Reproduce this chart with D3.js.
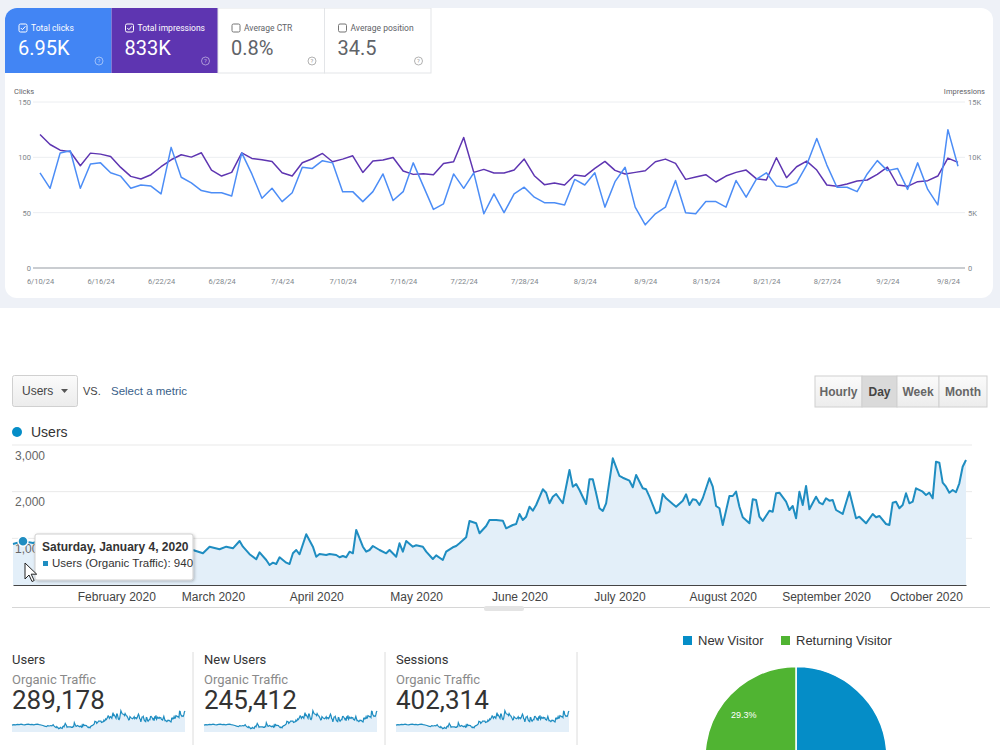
<!DOCTYPE html>
<html>
  <head>
    <meta charset="utf-8">
    <title>Search performance and organic traffic</title>
    <script src="https://cdn.jsdelivr.net/npm/d3@7"></script>
    <style>
      body { margin: 0; background: #fff; }
      svg { display: block; }
      text { font-family: Roboto, "Liberation Sans", sans-serif; }
      .ga text { font-family: "Liberation Sans", Arial, sans-serif; }
      .ga .score text { font-family: Roboto, "Liberation Sans", sans-serif; }
    </style>
  </head>
  <body>
    <svg id="board" width="1000" height="750"></svg>

    <script>
      // ---- search console data (one value per day from 6/10/24) ----
      searchStart = new Date(2024, 5, 10);
      clicks = [
        86, 72, 104, 106, 72, 94, 95, 86, 83, 72,
        75, 74, 67, 109, 82, 77, 70, 68, 68, 65,
        104, 85, 63, 72, 60, 68, 91, 90, 97, 95,
        69, 69, 60, 69, 85, 61, 69, 95, 74, 53,
        58, 85, 72, 86, 49, 67, 50, 67, 73, 64,
        59, 59, 57, 80, 75, 86, 55, 78, 91, 55,
        39, 49, 55, 79, 50, 49, 60, 60, 55, 79,
        64, 80, 86, 74, 73, 77, 93, 117, 93, 73,
        73, 69, 85, 97, 88, 90, 71, 95, 71, 57,
        125, 92
      ];
      impressions = [
        12060, 11160, 10650, 10500, 9240, 10380, 10290, 10080, 9090, 8280,
        8040, 8430, 9150, 9780, 10230, 10020, 10410, 8850, 8310, 8640,
        10410, 9900, 9780, 9630, 8610, 8310, 9510, 9870, 10350, 9600,
        9840, 10140, 8640, 9660, 9750, 9990, 8760, 8460, 8520, 8430,
        9450, 9600, 11790, 8640, 8910, 8580, 8580, 8850, 9840, 8340,
        7530, 7680, 7500, 8400, 8280, 9000, 9630, 8820, 8490, 8640,
        8790, 9600, 9840, 9450, 8010, 8220, 8430, 7770, 8310, 8640,
        8850, 8070, 7950, 9960, 8160, 9150, 9660, 8850, 7500, 7380,
        7590, 7860, 7950, 8460, 9120, 7500, 7380, 7800, 7890, 8310,
        9930, 9540
      ];
      clickTicks = [0, 50, 100, 150];
      impressionTicks = [0, 5000, 10000, 15000];
      tileLabels = ["Total clicks", "Total impressions", "Average CTR", "Average position"];
      tileValues = ["6.95K", "833K", "0.8%", "34.5"];
      tileSelected = [true, true, false, false];

      // ---- analytics data: [day offset from Jan 1 2020, users] ----
      usersSeries = [
        [0, 880], [3, 940], [6, 900], [9, 970], [12, 930], [15, 990], [18, 940], [21, 900], [24, 960],
        [27, 1000], [30, 950], [33, 980], [36, 920], [39, 960], [42, 1000], [45, 940], [48, 890], [51, 830],
        [54, 750], [57, 679], [59, 821], [62, 765], [64, 821], [66, 786], [68, 943], [69, 821], [71, 660],
        [73, 551], [74, 701], [76, 536], [77, 429], [78, 478], [79, 450], [80, 594], [82, 478], [83, 450],
        [84, 679], [85, 750], [86, 658], [88, 1086], [90, 821], [91, 606], [92, 664], [94, 643], [95, 664],
        [97, 643], [98, 594], [99, 621], [100, 594], [101, 714], [102, 679], [103, 1179], [105, 821], [106, 714],
        [107, 750], [108, 836], [110, 750], [112, 679], [113, 750], [115, 606], [116, 894], [117, 714], [118, 943],
        [120, 821], [121, 851], [123, 821], [124, 714], [126, 557], [127, 636], [129, 536], [130, 714], [132, 808],
        [133, 836], [134, 894], [136, 1022], [137, 1372], [139, 1322], [140, 1108], [142, 1264], [143, 1393], [145, 1393],
        [147, 1378], [148, 1215], [150, 1286], [151, 1307], [152, 1522], [153, 1393], [154, 1464], [155, 1678], [156, 1592],
        [157, 1714], [159, 2051], [160, 1978], [161, 1751], [162, 1892], [163, 1950], [165, 1751], [167, 2464], [168, 2107],
        [169, 2164], [170, 2036], [172, 1736], [173, 2265], [174, 2265], [175, 1965], [176, 1644], [177, 1586], [178, 1751],
        [180, 2715], [182, 2336], [183, 2299], [185, 2235], [186, 2094], [187, 2357], [189, 2072], [190, 2051], [191, 1892],
        [193, 1536], [194, 1571], [195, 1950], [196, 1858], [198, 1736], [199, 1678], [201, 1807], [202, 1944], [203, 1714],
        [204, 1837], [205, 1822], [206, 1714], [207, 1858], [209, 2287], [210, 2107], [211, 1693], [212, 1644], [213, 1286],
        [215, 1907], [216, 1907], [217, 2000], [218, 1678], [219, 1451], [221, 1322], [222, 1837], [223, 1822], [224, 1464],
        [225, 1372], [227, 1592], [228, 1571], [229, 1965], [230, 1978], [232, 1785], [233, 1607], [234, 1693], [235, 1429],
        [236, 1999], [237, 1714], [238, 2122], [239, 1622], [241, 1892], [242, 1764], [243, 1729], [244, 1858], [245, 1807],
        [246, 1822], [247, 1607], [249, 1522], [251, 1999], [253, 1429], [254, 1464], [255, 1393], [256, 1322], [258, 1522],
        [259, 1451], [260, 1479], [262, 1307], [263, 1286], [264, 1764], [265, 1785], [266, 1644], [267, 1714], [268, 1965],
        [269, 1751], [270, 1785], [271, 2072], [273, 1999], [274, 1929], [275, 1978], [276, 1858], [277, 2642], [278, 2621],
        [279, 2192], [280, 2107], [281, 1978], [282, 2036], [283, 1987], [284, 2179], [285, 2535], [286, 2679]
      ];
      usersStart = new Date(2020, 0, 1);
      usersTicks = [1000, 2000, 3000];
      hoverDay = 3;
      periodButtons = ["Hourly", "Day", "Week", "Month"];
      scoreTitles = ["Users", "New Users", "Sessions"];
      scoreValues = ["289,178", "245,412", "402,314"];
      visitorTypes = ["New Visitor", "Returning Visitor"];
      visitorShares = [70.7, 29.3];
      visitorColours = ["#058dc7", "#50b432"];

      svg = d3.select("#board");
      defs = svg.append("defs");

      // ================= search console panel =================
      svg.append("rect")
        .attr("width", 1000).attr("height", 308)
        .attr("fill", "#eef1f7");

      defs.append("clipPath").attr("id", "cardClip")
        .append("rect")
          .attr("x", 5).attr("y", 8)
          .attr("width", 988).attr("height", 290)
          .attr("rx", 12);

      card = svg.append("g").attr("clip-path", "url(#cardClip)");
      card.append("rect")
        .attr("x", 5).attr("y", 8)
        .attr("width", 988).attr("height", 290)
        .attr("fill", "#fff");

      tileX = d3.scaleBand()
        .domain(tileLabels)
        .range([5, 431]);

      tiles = card.selectAll(".tile")
        .data(tileLabels)
        .enter().append("g")
          .classed("tile", true)
          .attr("transform", function(d) { return "translate(" + tileX(d) + ",8)"; });

      tiles.append("rect")
        .attr("width", tileX.bandwidth())
        .attr("height", 65)
        .attr("fill", function(d, i) { return i == 0 ? "#4285f4" : i == 1 ? "#5e35b1" : "#fff"; })
        .attr("stroke", function(d, i) { return tileSelected[i] ? "none" : "#e3e5e8"; });

      tiles.append("rect")
        .attr("x", 14).attr("y", 16)
        .attr("width", 8).attr("height", 8)
        .attr("rx", 1.5)
        .attr("fill", "none")
        .attr("stroke", function(d, i) { return tileSelected[i] ? "#fff" : "#757575"; })
        .attr("stroke-width", 1);

      tiles.filter(function(d, i) { return tileSelected[i]; })
        .append("path")
          .attr("d", "M15.8,20 l1.6,1.7 l3,-3.4")
          .attr("fill", "none")
          .attr("stroke", "#fff")
          .attr("stroke-width", 1);

      tiles.append("text")
        .attr("x", 26).attr("y", 23)
        .attr("font-size", 8.5)
        .attr("fill", function(d, i) { return tileSelected[i] ? "#fff" : "#5f6368"; })
        .text(function(d) { return d; });

      tiles.append("text")
        .attr("x", 13).attr("y", 47)
        .attr("font-size", 20)
        .attr("fill", function(d, i) { return tileSelected[i] ? "#fff" : "#5f6368"; })
        .text(function(d, i) { return tileValues[i]; });

      help = tiles.append("g").attr("transform", "translate(94,53)");
      help.append("circle")
        .attr("r", 4)
        .attr("fill", "none")
        .attr("stroke", function(d, i) { return tileSelected[i] ? "rgba(255,255,255,0.6)" : "#9e9e9e"; })
        .attr("stroke-width", 0.8);
      help.append("text")
        .attr("text-anchor", "middle").attr("y", 2.2)
        .attr("font-size", 6)
        .attr("fill", function(d, i) { return tileSelected[i] ? "rgba(255,255,255,0.6)" : "#9e9e9e"; })
        .text("?");

      // scales
      searchEnd = d3.timeDay.offset(searchStart, clicks.length - 1);
      xTop = d3.scaleTime().domain([searchStart, searchEnd]).range([40, 958]);
      yClicks = d3.scaleLinear().domain([0, 150]).range([268, 102]);
      yImpr = d3.scaleLinear().domain([0, 15000]).range([268, 102]);

      plot = svg.append("g").attr("font-size", 7.5);

      plot.selectAll(".grid")
        .data(clickTicks.slice(1))
        .enter().append("line")
          .attr("x1", 33).attr("x2", 965)
          .attr("y1", yClicks).attr("y2", yClicks)
          .attr("stroke", "#eceef1");

      plot.append("line")
        .attr("x1", 33).attr("x2", 965)
        .attr("y1", yClicks(0)).attr("y2", yClicks(0))
        .attr("stroke", "#b8bcc2").attr("stroke-width", 1.5);

      leftAxis = plot.append("g")
        .attr("transform", "translate(32,0)")
        .call(d3.axisLeft(yClicks).tickValues(clickTicks).tickSize(0).tickPadding(1));
      rightAxis = plot.append("g")
        .attr("transform", "translate(966,0)")
        .call(d3.axisRight(yImpr).tickValues(impressionTicks).tickSize(0).tickPadding(2)
          .tickFormat(function(d) { return d == 0 ? "0" : d / 1000 + "K"; }));

      tickDays = d3.range(0, clicks.length, 6).map(function(k) { return d3.timeDay.offset(searchStart, k); });
      bottomAxis = plot.append("g")
        .attr("transform", "translate(0," + yClicks(0) + ")")
        .call(d3.axisBottom(xTop).tickValues(tickDays).tickSize(0).tickPadding(11)
          .tickFormat(d3.timeFormat("%-m/%-d/%y")));

      plot.selectAll(".domain").remove();
      plot.selectAll(".tick text")
        .attr("fill", "#80868b")
        .attr("font-family", "Roboto, sans-serif")
        .attr("font-size", 7.5);

      plot.append("text")
        .attr("x", 14).attr("y", 94)
        .attr("font-size", 7.5).attr("fill", "#5f6368")
        .text("Clicks");
      plot.append("text")
        .attr("x", 985).attr("y", 94)
        .attr("text-anchor", "end")
        .attr("font-size", 7.5).attr("fill", "#5f6368")
        .text("Impressions");

      dayX = function(d, i) { return xTop(d3.timeDay.offset(searchStart, i)); };

      plot.append("path")
        .datum(impressions)
        .attr("fill", "none")
        .attr("stroke", "#5e35b1")
        .attr("stroke-width", 1.5)
        .attr("stroke-linejoin", "round")
        .attr("d", d3.line().x(dayX).y(function(d) { return yImpr(d); }));

      plot.append("path")
        .datum(clicks)
        .attr("fill", "none")
        .attr("stroke", "#4c8df6")
        .attr("stroke-width", 1.5)
        .attr("stroke-linejoin", "round")
        .attr("d", d3.line().x(dayX).y(function(d) { return yClicks(d); }));

      // ================= analytics panel =================
      ga = svg.append("g").classed("ga", true);

      grad = defs.append("linearGradient").attr("id", "btn").attr("x1", 0).attr("x2", 0).attr("y1", 0).attr("y2", 1);
      grad.append("stop").attr("offset", "0%").attr("stop-color", "#fbfbfb");
      grad.append("stop").attr("offset", "100%").attr("stop-color", "#ececec");

      shadow = defs.append("filter").attr("id", "shadow").attr("x", "-10%").attr("y", "-20%").attr("width", "130%").attr("height", "150%");
      shadow.append("feDropShadow").attr("dx", 1).attr("dy", 1).attr("stdDeviation", 1.5).attr("flood-opacity", 0.25);

      // metric picker
      ga.append("rect")
        .attr("x", 12.5).attr("y", 375.5)
        .attr("width", 65).attr("height", 31)
        .attr("rx", 2)
        .attr("fill", "url(#btn)").attr("stroke", "#d0d0d0");
      ga.append("text")
        .attr("x", 22).attr("y", 395)
        .attr("font-size", 12).attr("fill", "#444")
        .text("Users");
      ga.append("path")
        .attr("d", "M61,389 h7 l-3.5,4 z")
        .attr("fill", "#555");
      ga.append("text")
        .attr("x", 83).attr("y", 395)
        .attr("font-size", 11).attr("fill", "#444")
        .text("VS.");
      ga.append("text")
        .attr("x", 111).attr("y", 395)
        .attr("font-size", 11.5).attr("fill", "#3a5f8a")
        .text("Select a metric");

      // period buttons
      btnX = d3.scaleOrdinal().domain(periodButtons).range([815, 862, 897, 939]);
      btnW = d3.scaleOrdinal().domain(periodButtons).range([47, 35, 42, 48]);
      buttons = ga.selectAll(".period")
        .data(periodButtons)
        .enter().append("g")
          .classed("period", true)
          .attr("transform", function(d) { return "translate(" + btnX(d) + ",376)"; });
      buttons.append("rect")
        .attr("width", btnW).attr("height", 31)
        .attr("fill", function(d) { return d == "Day" ? "#dadada" : "url(#btn)"; })
        .attr("stroke", "#d0d0d0");
      buttons.append("text")
        .attr("x", function(d) { return btnW(d) / 2; })
        .attr("y", 20)
        .attr("text-anchor", "middle")
        .attr("font-size", 12).attr("font-weight", "bold")
        .attr("fill", function(d) { return d == "Day" ? "#444" : "#666"; })
        .text(function(d) { return d; });

      // legend
      ga.append("circle")
        .attr("cx", 17).attr("cy", 432).attr("r", 5)
        .attr("fill", "#058dc7");
      ga.append("text")
        .attr("x", 31).attr("y", 437)
        .attr("font-size", 14).attr("fill", "#333")
        .text("Users");

      usersEnd = d3.timeDay.offset(usersStart, usersSeries[usersSeries.length - 1][0]);
      xUsers = d3.scaleTime().domain([usersStart, usersEnd]).range([13, 966]);
      yUsers = d3.scaleLinear().domain([0, 3000]).range([585, 445]);
      usersDate = function(d) { return xUsers(d3.timeDay.offset(usersStart, d[0])); };

      ga.selectAll(".ugrid")
        .data(usersTicks)
        .enter().append("line")
          .attr("x1", 12).attr("x2", 972)
          .attr("y1", yUsers).attr("y2", yUsers)
          .attr("stroke", "#e9e9e9");

      ga.append("path")
        .datum(usersSeries)
        .attr("fill", "#e3eff9")
        .attr("d", d3.area().x(usersDate).y0(yUsers(0)).y1(function(d) { return yUsers(d[1]); }));

      ga.append("path")
        .datum(usersSeries)
        .attr("fill", "none")
        .attr("stroke", "#1f8dc1")
        .attr("stroke-width", 2)
        .attr("stroke-linejoin", "round")
        .attr("d", d3.line().x(usersDate).y(function(d) { return yUsers(d[1]); }));

      yAxisUsers = ga.append("g")
        .attr("transform", "translate(15,0)")
        .call(d3.axisRight(yUsers).tickValues(usersTicks).tickSize(0).tickPadding(0).tickFormat(d3.format(",")));
      yAxisUsers.select(".domain").remove();
      yAxisUsers.selectAll("text").attr("dy", 14).attr("font-size", 12).attr("fill", "#666");

      monthAxis = ga.append("g")
        .attr("transform", "translate(0," + yUsers(0) + ")")
        .call(d3.axisBottom(xUsers)
          .tickValues(d3.timeMonth.range(new Date(2020, 1, 1), new Date(2020, 10, 1)))
          .tickFormat(d3.timeFormat("%B %Y"))
          .tickSize(0).tickSizeOuter(0).tickPadding(7));
      monthAxis.select(".domain").attr("stroke", "#444").attr("stroke-width", 1.2);
      monthAxis.selectAll("text").attr("font-size", 12).attr("fill", "#444");

      // resize bar under the chart
      ga.append("line")
        .attr("x1", 12).attr("x2", 990).attr("y1", 607.5).attr("y2", 607.5)
        .attr("stroke", "#d6d6d6");
      ga.append("rect")
        .attr("x", 484).attr("y", 606).attr("width", 40).attr("height", 5)
        .attr("rx", 2).attr("fill", "#e4e4e4");

      // hover point, tooltip and pointer
      hovered = usersSeries.find(function(d) { return d[0] == hoverDay; });
      ga.append("circle")
        .attr("cx", usersDate(hovered)).attr("cy", yUsers(hovered[1]))
        .attr("r", 5)
        .attr("fill", "#1f8dc1").attr("stroke", "#fff").attr("stroke-width", 1.5);

      tipG = ga.append("g").attr("transform", "translate(35,534)");
      tipG.append("rect")
        .attr("width", 158).attr("height", 46)
        .attr("rx", 2)
        .attr("fill", "#fff").attr("stroke", "#cfcfcf")
        .attr("filter", "url(#shadow)");
      tipG.append("text")
        .attr("x", 7).attr("y", 17)
        .attr("font-size", 12).attr("font-weight", "bold").attr("fill", "#333")
        .text(d3.timeFormat("%A, %B %-d, %Y")(d3.timeDay.offset(usersStart, hovered[0])));
      tipG.append("rect")
        .attr("x", 8).attr("y", 27).attr("width", 5).attr("height", 5)
        .attr("fill", "#1f8dc1");
      tipG.append("text")
        .attr("x", 17).attr("y", 33)
        .attr("font-size", 11.5).attr("fill", "#333")
        .text("Users (Organic Traffic): " + hovered[1]);

      ga.append("path")
        .attr("d", "M25,563 v16 l4,-4 l3,6.5 l2.2,-1 l-3,-6.3 h5.5 z")
        .attr("fill", "#fff").attr("stroke", "#222").attr("stroke-width", 1);

      // scorecards with sparklines
      scoreX = d3.scaleBand().domain(scoreTitles).range([12, 588]);
      xSpark = d3.scaleTime().domain(xUsers.domain()).range([0, 173]);
      ySpark = d3.scaleLinear().domain([0, 2800]).range([22, 0]);

      scores = ga.selectAll(".score")
        .data(scoreTitles)
        .enter().append("g")
          .classed("score", true)
          .attr("transform", function(d) { return "translate(" + scoreX(d) + ",0)"; });

      scores.append("line")
        .attr("x1", 181).attr("x2", 181).attr("y1", 652).attr("y2", 745)
        .attr("stroke", "#dcdcdc");
      scores.append("text")
        .attr("y", 664).attr("font-size", 13).attr("fill", "#333")
        .text(function(d) { return d; });
      scores.append("text")
        .attr("y", 684).attr("font-size", 13).attr("fill", "#8a8a8a")
        .text("Organic Traffic");
      scores.append("text")
        .attr("y", 709).attr("font-size", 26).attr("fill", "#333")
        .text(function(d, i) { return scoreValues[i]; });

      spark = scores.append("g").attr("transform", "translate(0,710)");
      sparkX = function(d) { return xSpark(d3.timeDay.offset(usersStart, d[0])); };
      spark.append("path")
        .datum(usersSeries)
        .attr("fill", "#e3eff9")
        .attr("d", d3.area().x(sparkX).y0(ySpark(0)).y1(function(d) { return ySpark(d[1]); }));
      spark.append("path")
        .datum(usersSeries)
        .attr("fill", "none")
        .attr("stroke", "#1f8dc1")
        .attr("stroke-width", 1.2)
        .attr("d", d3.line().x(sparkX).y(function(d) { return ySpark(d[1]); }));

      // visitor pie
      legendX = d3.scaleOrdinal().domain(visitorTypes).range([683, 781]);
      keys = ga.selectAll(".key")
        .data(visitorTypes)
        .enter().append("g")
          .classed("key", true)
          .attr("transform", function(d) { return "translate(" + legendX(d) + ",636)"; });
      keys.append("rect")
        .attr("width", 9).attr("height", 9)
        .attr("fill", function(d, i) { return visitorColours[i]; });
      keys.append("text")
        .attr("x", 15).attr("y", 9)
        .attr("font-size", 13).attr("fill", "#333")
        .text(function(d) { return d; });

      pieRadius = 91;
      pie = d3.pie().sort(null).value(function(d) { return d; });
      arc = d3.arc().innerRadius(0).outerRadius(pieRadius);
      labelArc = d3.arc().innerRadius(pieRadius * 0.72).outerRadius(pieRadius * 0.72);

      pieG = ga.append("g").attr("transform", "translate(796,757.5)");
      pieG.selectAll(".slice")
        .data(pie(visitorShares))
        .enter().append("path")
          .classed("slice", true)
          .attr("d", arc)
          .attr("fill", function(d, i) { return visitorColours[i]; })
          .attr("stroke", "#fff").attr("stroke-width", 1.5);
      pieG.selectAll(".pct")
        .data(pie(visitorShares).filter(function(d) { return d.endAngle > Math.PI * 1.4 && d.startAngle > Math.PI; }))
        .enter().append("text")
          .attr("transform", function(d) { return "translate(" + labelArc.centroid(d) + ")"; })
          .attr("text-anchor", "middle")
          .attr("font-size", 9).attr("fill", "#fff")
          .text(function(d) { return d.data + "%"; });
    </script>
  </body>
</html>
